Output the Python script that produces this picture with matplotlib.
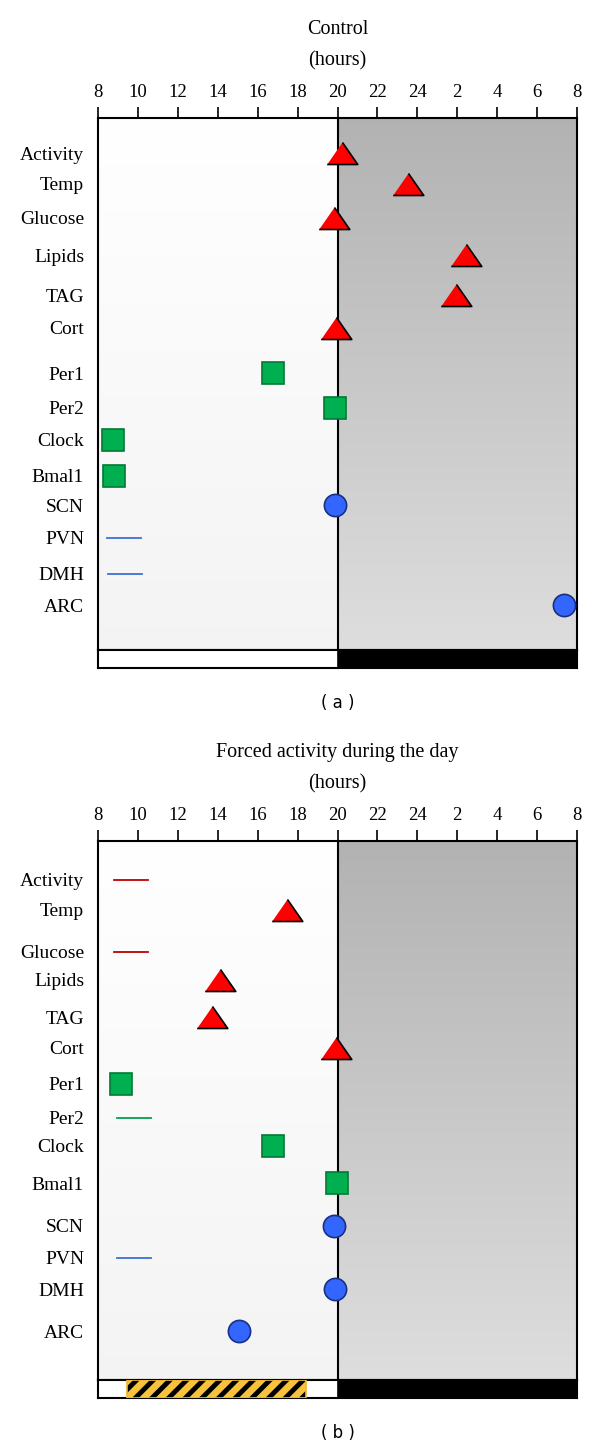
import matplotlib
matplotlib.use('Agg')
import matplotlib.pyplot as plt
import matplotlib.patches as mpatches
import numpy as np

# ---- data ----
rows = ['Activity', 'Temp', 'Glucose', 'Lipids', 'TAG', 'Cort',
        'Per1', 'Per2', 'Clock', 'Bmal1',
        'SCN', 'PVN', 'DMH', 'ARC']
groups = ['phys'] * 6 + ['gene'] * 4 + ['brain'] * 4

hour_ticks = list(range(8, 33, 2))
hour_labels = ['8', '10', '12', '14', '16', '18', '20', '22', '24', '2', '4', '6', '8']

# peak time (hours since 0:00 of day 1, >24 = next day); None = no peak (line)
control_peak = [20.25, 23.55, 19.8, 26.45, 25.95, 19.9,
                16.75, 19.85, 8.75, 8.8,
                19.85, None, None, 31.35]
control_flat = {11: (8.45, 10.15), 12: (8.5, 10.2)}

forced_peak = [None, 17.45, None, 14.1, 13.7, 19.9,
               9.15, None, 16.75, 19.95,
               19.8, None, 19.85, 15.05]
forced_flat = {0: (8.8, 10.5), 2: (8.8, 10.5), 7: (8.95, 10.65), 11: (8.95, 10.65)}

forced_activity = (9.45, 18.4)
light_off = 20

# ---- layout (pixel rows in the figure) ----
rowpix_a = [153, 184, 218, 255, 295, 328, 373, 408, 440, 476, 505, 538, 574, 605]
rowpix_b = [880, 910, 952, 980, 1017, 1048, 1084, 1118, 1146, 1183, 1226, 1258, 1289, 1331]

marker_style = {
    'phys': dict(marker=[(-1, -0.72), (1, -0.72), (0, 0.72)], markersize=22,
                 markerfacecolor='#ff0000', markeredgecolor='#000000'),
    'gene': dict(marker='s', markersize=16,
                 markerfacecolor='#00b050', markeredgecolor='#007a35'),
    'brain': dict(marker='o', markersize=16,
                  markerfacecolor='#3366ff', markeredgecolor='#1a2f80'),
}
line_color = {'phys': '#c00000', 'gene': '#00a050', 'brain': '#3b6fd6'}

serif = 'Liberation Serif'
W, H = 600, 1450
fig = plt.figure(figsize=(6, 14.5), dpi=100)


def gradient(ax, x0, x1, c_top, c_bot, height):
    t = np.linspace(0, 1, 256)[:, None]
    col = np.array(c_top)[None, :] * (1 - t) + np.array(c_bot)[None, :] * t
    img = np.repeat(col[:, None, :], 2, axis=1)
    ax.imshow(img, extent=(x0, x1, height, 0), aspect='auto', zorder=0,
              interpolation='bilinear')


def panel(top, bottom, title, peaks, flats, rowpix, caption, bar=None):
    left, right = 98, 577
    h = bottom - top
    rowpos = [p - top for p in rowpix]
    ax = fig.add_axes([left / W, 1 - bottom / H, (right - left) / W, h / H])
    gradient(ax, 8, light_off, (1, 1, 1), (0.955, 0.955, 0.955), h)
    gradient(ax, light_off, 32, (0.70, 0.70, 0.70), (0.87, 0.87, 0.87), h)
    ax.axvline(light_off, color='black', lw=1.5, zorder=2)
    ax.set_xlim(8, 32)
    ax.set_ylim(h, 0)

    for i, g in enumerate(groups):
        if peaks[i] is not None:
            ax.plot(peaks[i], rowpos[i], linestyle='none', markeredgewidth=1.2,
                    zorder=5, clip_on=False, **marker_style[g])
        if i in flats:
            a, b = flats[i]
            ax.plot([a, b], [rowpos[i], rowpos[i]], color=line_color[g], lw=1.3, zorder=4)

    ax.xaxis.tick_top()
    ax.set_xticks(hour_ticks)
    ax.set_xticklabels(hour_labels, fontfamily=serif, fontsize=13.5)
    ax.tick_params(axis='x', direction='out', length=8, width=1.2, pad=4)
    ax.set_yticks(rowpos)
    ax.set_yticklabels(rows, fontfamily=serif, fontsize=14)
    ax.tick_params(axis='y', length=0, pad=10)
    for s in ax.spines.values():
        s.set_linewidth(1.5)

    # light/dark strip
    sx = fig.add_axes([left / W, 1 - (bottom + 18) / H, (right - left) / W, 18 / H])
    sx.set_xlim(8, 32)
    sx.set_ylim(0, 1)
    sx.add_patch(mpatches.Rectangle((8, 0), light_off - 8, 1, facecolor='white', edgecolor='none'))
    sx.add_patch(mpatches.Rectangle((light_off, 0), 32 - light_off, 1, facecolor='black', edgecolor='none'))
    sx.axvline(light_off, color='black', lw=1.2)
    if bar is not None:
        plt.rcParams['hatch.linewidth'] = 3.5
        sx.add_patch(mpatches.Rectangle((bar[0], 0.02), bar[1] - bar[0], 0.96, facecolor='#f7c23c',
                                        edgecolor='black', hatch='//', linewidth=0, zorder=3))
        sx.add_patch(mpatches.Rectangle((bar[0], 0.02), bar[1] - bar[0], 0.96, fill=False,
                                        edgecolor='#f0b830', linewidth=1.2, zorder=4))
    sx.set_xticks([])
    sx.set_yticks([])
    for s in sx.spines.values():
        s.set_linewidth(1.5)

    cx = 0.5 * (left + right) / W
    fig.text(cx, 1 - (top - 88) / H, title, ha='center', va='center',
             fontfamily=serif, fontsize=14.5)
    fig.text(cx, 1 - (top - 57) / H, '(hours)', ha='center', va='center',
             fontfamily=serif, fontsize=14.5)
    fig.text(cx, 1 - (bottom + 53) / H, caption, ha='center', va='center',
             fontfamily='DejaVu Sans', fontsize=12)
    return ax


panel(118, 650, 'Control', control_peak, control_flat, rowpix_a, '( a )')
panel(841, 1380, 'Forced activity during the day', forced_peak, forced_flat, rowpix_b, '( b )',
      bar=forced_activity)

fig.savefig('out.png', dpi=100)
